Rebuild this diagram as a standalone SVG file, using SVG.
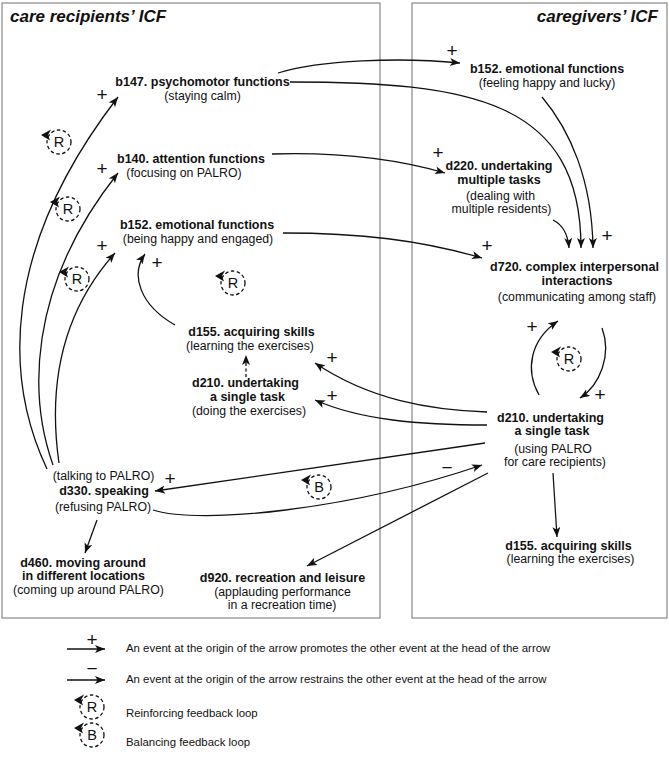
<svg xmlns="http://www.w3.org/2000/svg" width="669" height="764" viewBox="0 0 669 764">
<style>
text{font-family:"Liberation Sans",Arial,sans-serif;fill:#111}
.b{font-weight:bold;font-size:12.5px;text-anchor:middle}
.r{font-size:12.3px;text-anchor:middle}
.t{font-weight:bold;font-style:italic;font-size:17px}
.s{font-size:19px;text-anchor:middle}
.lg{font-size:11.4px}
.lt{font-size:14.5px;text-anchor:middle}
.panel{fill:none;stroke:#888;stroke-width:1.2}
.ca{fill:none;stroke:#111;stroke-width:1.3;marker-end:url(#ah)}
.lc{fill:none;stroke:#111;stroke-width:1.3;stroke-dasharray:3.5 2.5}
</style>
<defs>
<marker id="ah" markerUnits="userSpaceOnUse" markerWidth="12" markerHeight="10" refX="10" refY="4" orient="auto">
<path d="M0,0 L10,4 L0,8 L2.5,4 z" fill="#111"/>
</marker>
<g id="loop">
<circle cx="0" cy="0" r="12" class="lc"/>
<path d="M-18,-7 L-8,-12.5 L-11,-7 L-9,-1.5 Z" fill="#111"/>
</g>
</defs>
<rect class="panel" x="2" y="3" width="378" height="615"/>
<rect class="panel" x="412" y="3" width="255" height="615"/>
<text class="t" x="10" y="22">care recipients’ ICF</text>
<text class="t" x="658" y="22" text-anchor="end">caregivers’ ICF</text>
<g id="connectors">
<path class="ca" d="M278,73 C320,60 400,57 460,63"/>
<path class="ca" d="M290,82 C470,82 581,100 581,248"/>
<path class="ca" d="M272,154 C340,152 400,160 445,173"/>
<path class="ca" d="M283,233 C360,233 420,240 482,258"/>
<path class="ca" d="M542,97 C570,130 592,180 593,248"/>
<path class="ca" d="M553,220 C563,225 568,235 569,248"/>
<path class="ca" d="M47,469 C5,380 0,250 118,97"/>
<path class="ca" d="M53,465 C30,400 25,290 118,173"/>
<path class="ca" d="M59,463 C50,400 55,320 115,253"/>
<path class="ca" d="M175,325 C140,305 130,275 145,254"/>
<path class="ca" d="M246,377 L246,355" stroke-dasharray="3 2.5"/>
<path class="ca" d="M487,412 C430,410 370,400 315,363"/>
<path class="ca" d="M487,425 C420,425 360,420 315,400"/>
<path class="ca" d="M485,443 L155,491"/>
<path class="ca" d="M153,510 C200,525 350,510 482,465"/>
<path class="ca" d="M488,473 L307,566"/>
<path class="ca" d="M97,520 L85,553"/>
<path class="ca" d="M553,473 L557,537"/>
<path class="ca" d="M539,395 C525,370 530,340 558,321"/>
<path class="ca" d="M602,328 C612,355 600,385 580,398"/>
</g>
<g id="signs">
<text class="s" x="452" y="57">+</text>
<text class="s" x="438" y="159">+</text>
<text class="s" x="607" y="242">+</text>
<text class="s" x="487" y="252">+</text>
<text class="s" x="102" y="101">+</text>
<text class="s" x="102" y="175">+</text>
<text class="s" x="102" y="252">+</text>
<text class="s" x="157" y="269">+</text>
<text class="s" x="332" y="364">+</text>
<text class="s" x="332" y="402">+</text>
<text class="s" x="532" y="333">+</text>
<text class="s" x="600" y="401">+</text>
<text class="s" x="170" y="485">+</text>
<text class="s" x="447" y="474" font-size="22">−</text>
</g>
<g id="loops">
<use href="#loop" x="59" y="142"/><text class="lt" x="59" y="147">R</text>
<use href="#loop" x="68" y="209"/><text class="lt" x="68" y="214">R</text>
<use href="#loop" x="77" y="279"/><text class="lt" x="77" y="284">R</text>
<use href="#loop" x="233" y="283"/><text class="lt" x="233" y="288">R</text>
<use href="#loop" x="569" y="359"/><text class="lt" x="569" y="364">R</text>
<use href="#loop" x="319" y="487"/><text class="lt" x="319" y="492">B</text>
</g>
<g id="n_b147"><text class="b" x="202.5" y="86">b147. psychomotor functions</text><text class="r" x="202.5" y="100">(staying calm)</text></g>
<g id="n_b140"><text class="b" x="191" y="163">b140. attention functions</text><text class="r" x="184" y="177">(focusing on PALRO)</text></g>
<g id="n_b152r"><text class="b" x="197" y="229">b152. emotional functions</text><text class="r" x="198" y="243">(being happy and engaged)</text></g>
<g id="n_d155r"><text class="b" x="251.5" y="336">d155. acquiring skills</text><text class="r" x="250" y="350">(learning the exercises)</text></g>
<g id="n_d210r"><text class="b" x="245.5" y="387">d210. undertaking</text><text class="b" x="247.5" y="401">a single task</text><text class="r" x="249" y="415">(doing the exercises)</text></g>
<g id="n_d330"><text class="r" x="103.5" y="480">(talking to PALRO)</text><text class="b" x="104" y="495">d330. speaking</text><text class="r" x="103" y="511">(refusing PALRO)</text></g>
<g id="n_d460"><text class="b" x="83" y="567">d460. moving around</text><text class="b" x="83.5" y="580">in different locations</text><text class="r" x="88.5" y="594">(coming up around PALRO)</text></g>
<g id="n_d920"><text class="b" x="282.5" y="582">d920. recreation and leisure</text><text class="r" x="282.5" y="596">(applauding performance</text><text class="r" x="282" y="609">in a recreation time)</text></g>
<g id="n_b152c"><text class="b" x="547" y="73">b152. emotional functions</text><text class="r" x="547" y="87">(feeling happy and lucky)</text></g>
<g id="n_d220"><text class="b" x="499" y="170">d220. undertaking</text><text class="b" x="499" y="184">multiple tasks</text><text class="r" x="500.5" y="200">(dealing with</text><text class="r" x="501.5" y="213">multiple residents)</text></g>
<g id="n_d720"><text class="b" x="574.5" y="271">d720. complex interpersonal</text><text class="b" x="577" y="285">interactions</text><text class="r" x="577" y="301">(communicating among staff)</text></g>
<g id="n_d210c"><text class="b" x="550.5" y="422">d210. undertaking</text><text class="b" x="552" y="435">a single task</text><text class="r" x="553" y="453">(using PALRO</text><text class="r" x="555" y="466">for care recipients)</text></g>
<g id="n_d155c"><text class="b" x="568.5" y="550">d155. acquiring skills</text><text class="r" x="570.5" y="563">(learning the exercises)</text></g>
<g id="legend">
<path class="ca" d="M67,649 L105,649"/>
<text class="s" x="92" y="646" font-size="17">+</text>
<path class="ca" d="M67,680 L105,680"/>
<text class="s" x="92" y="675" font-size="17">−</text>
<use href="#loop" x="92" y="707"/><text class="lt" x="92" y="712">R</text>
<use href="#loop" x="92" y="735"/><text class="lt" x="92" y="740">B</text>
<text class="lg" x="126" y="652">An event at the origin of the arrow promotes the other event at the head of the arrow</text>
<text class="lg" x="126" y="683">An event at the origin of the arrow restrains the other event at the head of the arrow</text>
<text class="lg" x="126" y="717">Reinforcing feedback loop</text>
<text class="lg" x="126" y="746">Balancing feedback loop</text>
</g>
</svg>
